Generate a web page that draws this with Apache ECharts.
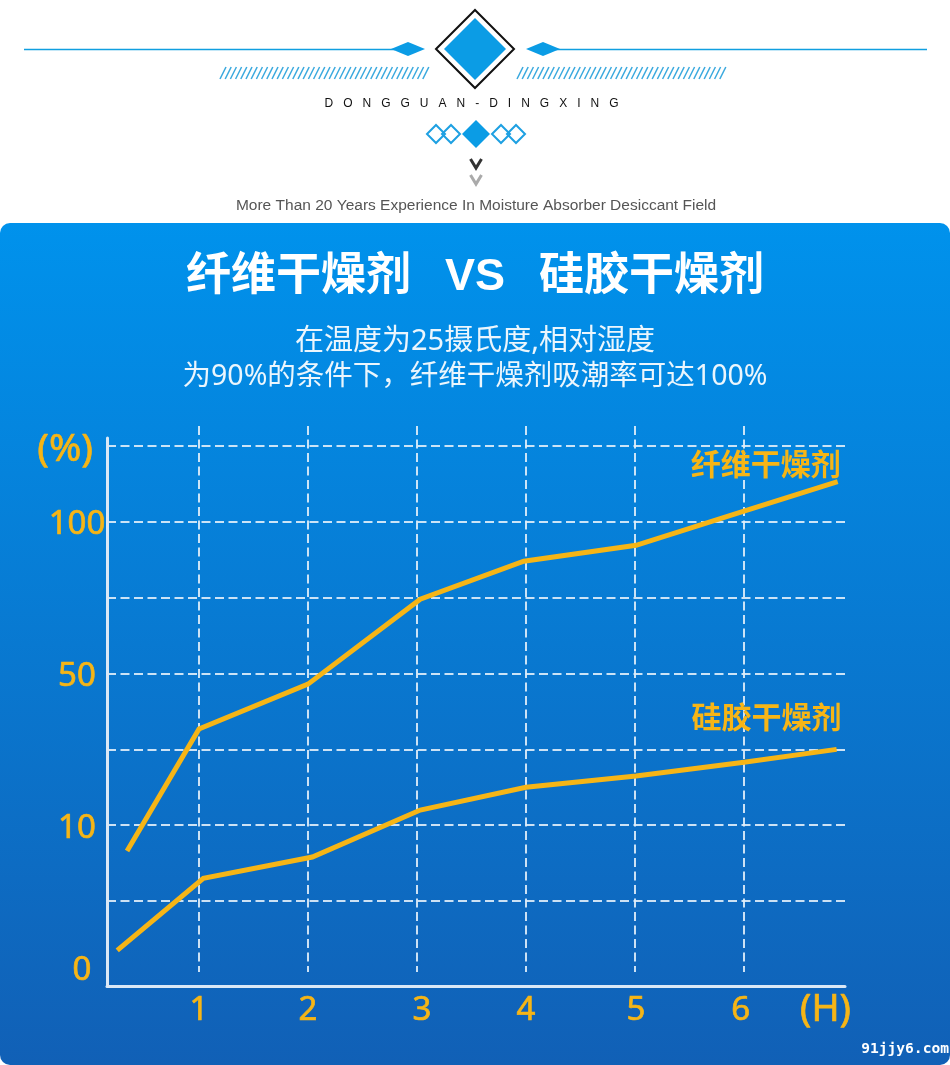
<!DOCTYPE html>
<html>
<head>
<meta charset="utf-8">
<title>纤维干燥剂 VS 硅胶干燥剂</title>
<style>
html, body { margin: 0; padding: 0; background: #fff; }
#chart { width: 950px; height: 1065px; }
</style>
<script src="https://cdn.jsdelivr.net/npm/echarts@6/dist/echarts.min.js"></script>
</head>
<body>
<div id="chart"></div>
<script>
"use strict";

// x is hours, y is counted in grid rows because the printed % scale is not linear
var fiberName = '纤维干燥剂';
var fiberHours = [0.34, 1, 2, 3.03, 3.98, 5.01, 6, 6.86];
var fiberRows = [1.66, 3.27, 3.86, 4.98, 5.48, 5.69, 6.14, 6.53];

var silicaName = '硅胶干燥剂';
var silicaHours = [0.25, 1.04, 2.04, 3.03, 4, 5.01, 6, 6.85];
var silicaRows = [0.35, 1.30, 1.58, 2.2, 2.5, 2.65, 2.83, 3.0];

var hourTicks = [1, 2, 3, 4, 5, 6];
var hourLabelAt = [1, 2, 3.045, 4, 5.01, 5.97];
var hourLabels = ['1', '2', '3', '4', '5', '6'];
var rowTicks = [1, 2, 3, 4, 5, 6, 7];
var rowLabelAt = [0.12, 2, 4, 6];
var rowLabels = ['0', '10', '50', '100'];

var gold = '#f6b516';
var dashColor = 'rgba(225,238,250,0.9)';
var cjk = '"Noto Sans", "Noto Sans CJK SC", sans-serif';
var headerBlue = '#0b9ce5';

var myChart = echarts.init(document.getElementById('chart'), null, { renderer: 'canvas' });

function toPairs(xs, ys) {
	var result = [];
	for (var i = 0; i < xs.length; i++) {
		result.push([xs[i], ys[i]]);
	}
	return result;
}

function diamond(cx, cy, hw, hh, style) {
	return {
		type: 'polygon',
		silent: true,
		shape: { points: [[cx - hw, cy], [cx, cy - hh], [cx + hw, cy], [cx, cy + hh]] },
		style: style
	};
}

function headerGraphics() {
	var items = [];
	var i;

	// blue panel behind the chart
	items.push({
		type: 'rect',
		z: -10,
		silent: true,
		shape: { x: 0, y: 223, width: 950, height: 842, r: 10 },
		style: {
			fill: new echarts.graphic.LinearGradient(0, 0, 0, 1, [
				{ offset: 0, color: '#0092ec' },
				{ offset: 1, color: '#1160b6' }
			])
		}
	});

	items.push({ type: 'rect', silent: true, shape: { x: 24, y: 48.7, width: 371, height: 1.5 }, style: { fill: '#109fe0' } });
	items.push({ type: 'rect', silent: true, shape: { x: 555, y: 48.7, width: 372, height: 1.5 }, style: { fill: '#109fe0' } });
	items.push(diamond(408, 49, 17, 7, { fill: headerBlue }));
	items.push(diamond(543, 49, 17, 7, { fill: headerBlue }));
	items.push(diamond(475, 49, 39, 39, { fill: '#fff', stroke: '#111', lineWidth: 2 }));
	items.push(diamond(475, 49, 31, 31, { fill: headerBlue }));

	// hatching under the top rule
	for (i = 0; i < 40; i++) {
		items.push({ type: 'line', silent: true, shape: { x1: 220 + i * 5.2, y1: 79, x2: 226 + i * 5.2, y2: 67 }, style: { stroke: '#3aa9de', lineWidth: 1.5 } });
		items.push({ type: 'line', silent: true, shape: { x1: 517 + i * 5.2, y1: 79, x2: 523 + i * 5.2, y2: 67 }, style: { stroke: '#3aa9de', lineWidth: 1.5 } });
	}

	items.push({
		type: 'text',
		silent: true,
		style: {
			x: 471.5, y: 104,
			text: 'D   O   N   G   G   U   A   N   -   D   I   N   G   X   I   N   G',
			fill: '#111',
			font: '12px "Liberation Sans", Arial, sans-serif',
			align: 'center',
			verticalAlign: 'middle'
		}
	});

	[436, 451, 501, 516].forEach(function(cx) {
		items.push(diamond(cx, 134, 9, 9, { fill: 'none', stroke: '#1ea0e2', lineWidth: 2 }));
	});
	items.push(diamond(476, 134, 14, 14, { fill: headerBlue }));

	items.push({ type: 'polyline', silent: true, shape: { points: [[470.5, 159], [476, 168], [481.5, 159]] }, style: { fill: 'none', stroke: '#333', lineWidth: 3 } });
	items.push({ type: 'polyline', silent: true, shape: { points: [[470.5, 175], [476, 184], [481.5, 175]] }, style: { fill: 'none', stroke: '#aaa', lineWidth: 3 } });

	items.push({
		type: 'text',
		silent: true,
		style: {
			x: 476, y: 206,
			text: 'More Than 20 Years Experience In Moisture Absorber Desiccant Field',
			fill: '#555',
			font: '15.5px "Liberation Sans", Arial, sans-serif',
			align: 'center',
			verticalAlign: 'middle'
		}
	});

	items.push({
		type: 'text',
		silent: true,
		style: {
			x: 949, y: 1049,
			text: '91jjy6.com',
			fill: '#fff',
			font: 'bold 14.6px "DejaVu Sans Mono", monospace',
			align: 'right',
			verticalAlign: 'middle'
		}
	});
	return items;
}

function drawLine(name, hours, rows, labelOffset) {
	return {
		name: name,
		type: 'line',
		xAxisIndex: 0,
		yAxisIndex: 0,
		data: toPairs(hours, rows),
		showSymbol: false,
		smooth: false,
		lineStyle: { color: gold, width: 5, cap: 'butt', join: 'miter' },
		endLabel: {
			show: true,
			formatter: name,
			color: gold,
			fontFamily: cjk,
			fontWeight: 'bold',
			fontSize: 30,
			align: 'right',
			verticalAlign: 'middle',
			offset: labelOffset
		}
	};
}

var x0 = 0.156, x1 = 6.927;

var option = {
	animation: false,
	backgroundColor: '#fff',
	title: [
		{
			text: '纤维干燥剂\u00a0\u00a0\u2009VS\u00a0\u00a0\u2009硅胶干燥剂',
			left: 'center',
			top: 250,
			textStyle: { color: '#fff', fontFamily: '"Liberation Sans", "Noto Sans CJK SC", sans-serif', fontWeight: 'bold', fontSize: 45 }
		},
		{
			text: '在温度为25摄氏度,相对湿度',
			left: 'center',
			top: 322,
			textStyle: { color: 'rgba(255,255,255,0.92)', fontFamily: cjk, fontWeight: 'normal', fontSize: 29 }
		},
		{
			text: '为90%的条件下，纤维干燥剂吸潮率可达100%',
			left: 'center',
			top: 358,
			textStyle: { color: 'rgba(255,255,255,0.92)', fontFamily: cjk, fontWeight: 'normal', fontSize: 28.5 }
		}
	],
	grid: [
		{ left: 107, top: 438, width: 738, height: 548, containLabel: false },
		// the vertical dashes run higher and stop short of the x axis
		{ left: 107, top: 426, width: 738, height: 546, containLabel: false }
	],
	xAxis: [
		{
			type: 'value',
			gridIndex: 0,
			min: x0,
			max: x1,
			name: '(H)',
			nameLocation: 'end',
			nameGap: -45,
			nameMoveOverlap: false,
			nameTextStyle: {
				color: gold, fontFamily: cjk, fontSize: 38, align: 'left',
				verticalAlign: 'top', padding: [5, 0, 0, 0],
				textBorderColor: gold, textBorderWidth: 0.7
			},
			axisLine: { show: true, onZero: false, lineStyle: { color: '#dbe8f6', width: 3 } },
			axisTick: { show: false },
			splitLine: { show: false },
			axisLabel: {
				color: gold,
				fontFamily: cjk,
				fontSize: 33,
				margin: 8,
				hideOverlap: false,
				textBorderColor: gold,
				textBorderWidth: 0.7,
				customValues: hourLabelAt,
				formatter: function(value) { return hourLabels[hourLabelAt.indexOf(value)]; }
			}
		},
		{
			type: 'value',
			gridIndex: 1,
			min: x0,
			max: x1,
			axisLine: { show: false },
			axisLabel: { show: false },
			axisTick: { show: false, customValues: hourTicks },
			splitLine: { show: true, lineStyle: { color: dashColor, width: 2, type: [9, 4.5] } }
		}
	],
	yAxis: [
		{
			type: 'value',
			gridIndex: 0,
			min: -0.12,
			max: 7.105,
			name: '(%)',
			nameLocation: 'end',
			nameGap: -12,
			nameMoveOverlap: false,
			nameTextStyle: {
				color: gold, fontFamily: cjk, fontSize: 39, align: 'right',
				verticalAlign: 'middle', padding: [0, 14, 0, 0],
				textBorderColor: gold, textBorderWidth: 0.7
			},
			axisLine: { show: true, onZero: false, lineStyle: { color: '#dbe8f6', width: 3 } },
			axisTick: { show: false, customValues: rowTicks },
			splitLine: { show: true, lineStyle: { color: dashColor, width: 2, type: [9, 4.5] } },
			axisLabel: {
				color: gold,
				fontFamily: cjk,
				fontSize: 33,
				align: 'center',
				margin: 30,
				padding: [6, 0, 0, 0],
				hideOverlap: false,
				textBorderColor: gold,
				textBorderWidth: 0.7,
				customValues: rowLabelAt,
				formatter: function(value) {
					var text = rowLabels[rowLabelAt.indexOf(value)];
					return text === '0' ? '{nudge|' + text + '}' : text;
				},
				rich: {
					nudge: { padding: [0, 0, 0, 10] }
				}
			}
		},
		{
			type: 'value',
			gridIndex: 1,
			min: 0,
			max: 1,
			show: false,
			splitLine: { show: false }
		}
	],
	series: [
		drawLine(fiberName, fiberHours, fiberRows, [-5, -15]),
		drawLine(silicaName, silicaHours, silicaRows, [-3, -30])
	],
	graphic: headerGraphics()
};

myChart.setOption(option);
</script>
</body>
</html>
